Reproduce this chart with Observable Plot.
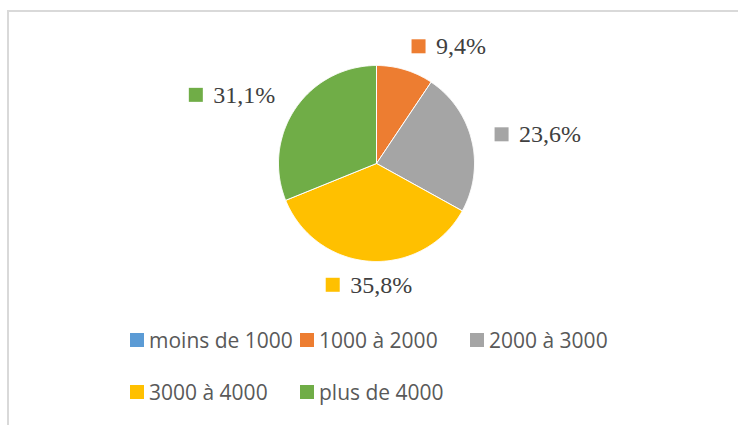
<!DOCTYPE html>
<html>
<head>
<meta charset="utf-8">
<script src="https://cdn.jsdelivr.net/npm/d3@7"></script>
<script src="https://cdn.jsdelivr.net/npm/@observablehq/plot@0.6"></script>
<style>
  body { margin: 0; background: #fff; }
  #wrap { position: relative; width: 738px; height: 425px; overflow: hidden; background: #fff; }
  #frame { position: absolute; left: 7px; top: 10px; width: 800px; height: 500px;
           border-top: 2px solid #d9d9d9; border-left: 2px solid #d9d9d9; pointer-events: none; z-index: 2; }
  #chart { position: absolute; left: 0; top: 0; }
  #chart svg text { font-family: "Liberation Serif", "Times New Roman", Tinos, "DejaVu Serif", serif !important; }
  #legend { position: absolute; left: 130px; top: 314px; width: 520px; display: flex; flex-wrap: wrap;
            font-family: "Open Sans", sans-serif; font-size: 21px; color: #595959; }
  .item { width: 170px; height: 52px; display: flex; align-items: center; white-space: nowrap; }
  .sw { width: 14px; height: 14px; margin-right: 5px; flex: none; }
</style>
</head>
<body>
<div id="wrap">
  <div id="frame"></div>
  <div id="chart"></div>
  <div id="legend"></div>
</div>
<script>
// ---- data ----
const categories = ["moins de 1000", "1000 à 2000", "2000 à 3000", "3000 à 4000", "plus de 4000"];
const shares = [0, 9.4, 23.6, 35.8, 31.1];

// ---- styles ----
const palette = ["#5B9BD5", "#ED7D31", "#A5A5A5", "#FFC000", "#70AD47"];
const W = 738, H = 320, cx = 376, cy = 163, R = 98, labelR = R + 24;
const labelFont = '"Liberation Serif", "Times New Roman", Tinos, "DejaVu Serif", serif';
const labelSize = 24;

const rows = categories.map((cat, i) => ({cat, share: shares[i], label: d3.format(".1f")(shares[i]).replace(".", ",") + "%"}));

const arcs = d3.pie().sort(null).value(d => d.share)(rows);

// slice outlines
const poly = [];
for (const a of arcs) {
  if (a.endAngle - a.startAngle <= 0) continue;
  const cat = a.data.cat;
  poly.push({cat, x: 0, y: 0});
  const n = Math.max(2, Math.ceil((a.endAngle - a.startAngle) / 0.01));
  for (let i = 0; i <= n; i++) {
    const t = a.startAngle + (a.endAngle - a.startAngle) * i / n;
    poly.push({cat, x: R * Math.sin(t), y: R * Math.cos(t)});
  }
  poly.push({cat, x: 0, y: 0});
}

// labels
const ctx = document.createElement("canvas").getContext("2d");
ctx.font = `${labelSize}px ${labelFont}`;
const labs = [];
for (const a of arcs) {
  if (a.data.share <= 0) continue;
  const mid = (a.startAngle + a.endAngle) / 2;
  const px = labelR * Math.sin(mid), py = labelR * Math.cos(mid);
  const tw = ctx.measureText(a.data.label).width;
  const boxW = 24 + tw;
  const s = Math.sin(mid);
  const left = s > 0.15 ? px : s < -0.15 ? px - boxW : px - boxW / 2;
  labs.push({cat: a.data.cat, label: a.data.label, x1: left, x2: left + 14, y1: py - 7, y2: py + 7, tx: left + 24, y: py});
}

const plot = Plot.plot({
  width: W, height: H,
  marginTop: 0, marginRight: 0, marginBottom: 0, marginLeft: 0,
  style: {background: "transparent"},
  x: {domain: [-cx, W - cx], axis: null},
  y: {domain: [cy - H, cy], axis: null},
  color: {domain: categories, range: palette},
  marks: [
    Plot.line(poly, {x: "x", y: "y", z: "cat", fill: "cat", stroke: "white", strokeWidth: 1, strokeLinejoin: "miter"}),
    Plot.rect(labs, {x1: "x1", x2: "x2", y1: "y1", y2: "y2", fill: "cat"}),
    Plot.text(labs, {x: "tx", y: "y", text: "label", textAnchor: "start", fontSize: labelSize, fill: "#404040"})
  ]
});
document.getElementById("chart").appendChild(plot);

// legend
const leg = document.getElementById("legend");
categories.forEach((c, i) => {
  const it = document.createElement("div");
  it.className = "item";
  const sw = document.createElement("span");
  sw.className = "sw";
  sw.style.background = palette[i];
  const tx = document.createElement("span");
  tx.textContent = c;
  it.appendChild(sw); it.appendChild(tx);
  leg.appendChild(it);
});
</script>
</body>
</html>
